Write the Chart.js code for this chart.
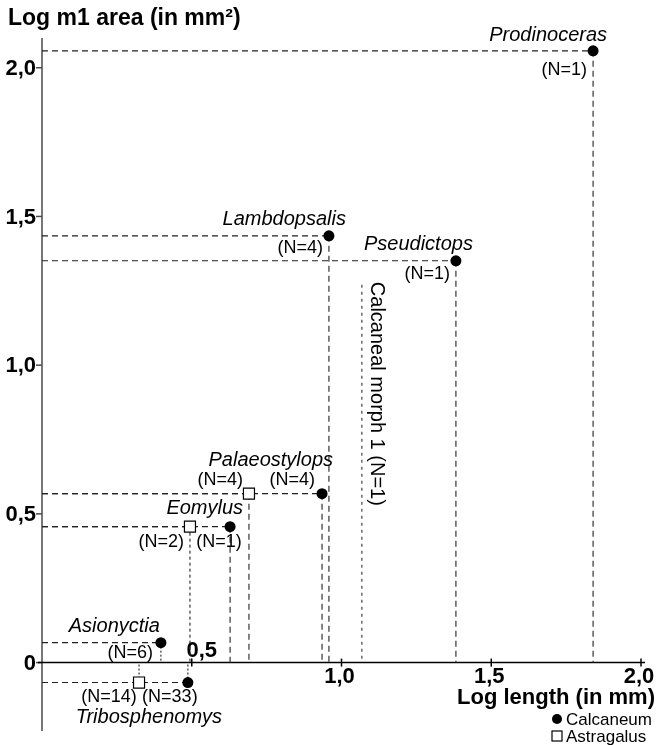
<!DOCTYPE html>
<html lang="en">
<head>
<meta charset="UTF-8">
<title>Log m1 area vs Log length</title>
<script src="https://cdn.jsdelivr.net/npm/chart.js@4.4.1/dist/chart.umd.min.js"></script>
<style>
  html, body { margin: 0; padding: 0; background: #fff; }
  #caja { width: 657px; height: 745px; position: relative; }
</style>
</head>
<body>
<div id="caja"><canvas id="grafico"></canvas></div>
<script>
// Calcaneum (filled circles)
const calcNames = ['Prodinoceras', 'Lambdopsalis', 'Pseudictops', 'Palaeostylops', 'Eomylus', 'Asionyctia', 'Tribosphenomys'];
const calcX = [1.840, 0.958, 1.382, 0.935, 0.628, 0.397, 0.487];
const calcY = [2.057, 1.435, 1.351, 0.568, 0.457, 0.067, -0.067];
const calcN = [1, 4, 1, 4, 1, 6, 33];

// Astragalus (open squares)
const astrNames = ['Palaeostylops', 'Eomylus', 'Tribosphenomys'];
const astrX = [0.691, 0.494, 0.324];
const astrY = [0.568, 0.457, -0.067];
const astrN = [4, 2, 14];

// Calcaneal morph 1: only the length is known
const morphX = 1.068;
const morphTop = 1.27;
const morphLabel = 'Calcaneal morph 1 (N=1)';

const xTicks = [0.5, 1.0, 1.5, 2.0];
const xTickLabels = ['0,5', '1,0', '1,5', '2,0'];
const yTicks = [0, 0.5, 1.0, 1.5, 2.0];
const yTickLabels = ['0', '0,5', '1,0', '1,5', '2,0'];

const xTitle = 'Log length (in mm)';
const yTitle = 'Log m1 area (in mm²)';

const fuente = "'Liberation Sans', Arial, Helvetica, sans-serif";
const DASH = [6, 4];
const DOT = [2, 2];

// estilo de la linea vertical de cada punto
const calcVertical = [DASH, DASH, DASH, DASH, DASH, DOT, DOT];
const astrVertical = [DASH, [3, 3], DOT];

// posicion de los textos respecto al punto (px)
const calcLayout = [
    { name: [14, -15, 'right'], n: [-6, 19, 'right'] },
    { name: [17, -16, 'right'], n: [-6, 12, 'right'] },
    { name: [17, -16, 'right'], n: [-6, 13, 'right'] },
    { name: [11, -33, 'right'], n: [-7, -14, 'right'] },
    { name: [13, -18, 'right'], n: [-11, 15, 'center'] },
    { name: [-1, -16, 'right'], n: [-8, 10, 'right'] },
    { name: [-39, 35, 'center'], n: [-18, 15, 'center'] }
];
const astrLayout = [
    { n: [-6, -14, 'right'] },
    { n: [-6, 15, 'right'] },
    { n: [-30, 15, 'center'] }
];

function linea(desde, hasta, dash, color) {
    return {
        type: 'scatter',
        showLine: true,
        data: [desde, hasta],
        borderColor: color,
        borderWidth: 1.2,
        borderDash: dash,
        pointRadius: 0,
        order: 2
    };
}

// lineas guia: horizontal hasta el eje y, vertical hasta el eje x
const guias = [];
calcX.forEach((x, i) => {
    guias.push(linea({ x: 0, y: calcY[i] }, { x: x, y: calcY[i] }, DASH, '#222'));
    guias.push(linea({ x: x, y: calcY[i] }, { x: x, y: 0 }, calcVertical[i], '#333'));
});
astrX.forEach((x, i) => {
    guias.push(linea({ x: 0, y: astrY[i] }, { x: x, y: astrY[i] }, DASH, '#222'));
    guias.push(linea({ x: x, y: astrY[i] }, { x: x, y: 0 }, astrVertical[i], '#333'));
});
guias.push(linea({ x: morphX, y: morphTop }, { x: morphX, y: 0 }, [3, 4], '#444'));

const ejesPlugin = {
    id: 'ejes',
    beforeDatasetsDraw(chart) {
        const { ctx, chartArea, scales: { x, y } } = chart;
        const x0 = x.getPixelForValue(0);
        const y0 = y.getPixelForValue(0);

        ctx.save();
        ctx.lineWidth = 1.5;

        // eje y
        ctx.strokeStyle = '#4a4a4a';
        ctx.beginPath();
        ctx.moveTo(x0, chartArea.top);
        ctx.lineTo(x0, chartArea.bottom);
        ctx.stroke();

        yTicks.forEach((v, i) => {
            const py = y.getPixelForValue(v);
            ctx.beginPath();
            ctx.moveTo(x0 - 6, py);
            ctx.lineTo(x0, py);
            ctx.stroke();
            ctx.fillStyle = '#000';
            ctx.font = `bold 22px ${fuente}`;
            ctx.textAlign = 'right';
            ctx.textBaseline = 'middle';
            ctx.fillText(yTickLabels[i], x0 - 6, py + 1);
        });

        // eje x
        ctx.strokeStyle = '#000';
        ctx.beginPath();
        ctx.moveTo(x0 - 4, y0);
        ctx.lineTo(chartArea.right - 2, y0);
        ctx.stroke();

        xTicks.forEach((v, i) => {
            const px = x.getPixelForValue(v);
            ctx.beginPath();
            ctx.moveTo(px, y0 - 4);
            ctx.lineTo(px, y0 + 4);
            ctx.stroke();
            ctx.font = `bold 22px ${fuente}`;
            ctx.textAlign = 'center';
            ctx.textBaseline = 'middle';
            if (i === 0) {
                ctx.fillText(xTickLabels[i], px + 10, y0 - 12);
            } else {
                ctx.fillText(xTickLabels[i], px - 2, y0 + 14);
            }
        });

        // titulos
        ctx.font = `bold 23px ${fuente}`;
        ctx.textAlign = 'left';
        ctx.fillText(yTitle, 8, 19);
        ctx.font = `bold 22px ${fuente}`;
        ctx.textAlign = 'right';
        ctx.fillText(xTitle, 655, 698);

        ctx.restore();
    },
    afterDatasetsDraw(chart) {
        const { ctx, scales: { x, y } } = chart;
        const calcMeta = chart.getDatasetMeta(0).data;
        const astrMeta = chart.getDatasetMeta(1).data;

        ctx.save();
        ctx.fillStyle = '#000';
        ctx.textBaseline = 'middle';

        calcMeta.forEach((p, i) => {
            const lay = calcLayout[i];
            ctx.font = `italic 20px ${fuente}`;
            ctx.textAlign = lay.name[2];
            ctx.fillText(calcNames[i], p.x + lay.name[0], p.y + lay.name[1]);
            ctx.font = `18px ${fuente}`;
            ctx.textAlign = lay.n[2];
            ctx.fillText(`(N=${calcN[i]})`, p.x + lay.n[0], p.y + lay.n[1]);
        });

        astrMeta.forEach((p, i) => {
            const lay = astrLayout[i];
            ctx.font = `18px ${fuente}`;
            ctx.textAlign = lay.n[2];
            ctx.fillText(`(N=${astrN[i]})`, p.x + lay.n[0], p.y + lay.n[1]);
        });

        // etiqueta vertical de Calcaneal morph 1
        ctx.translate(x.getPixelForValue(morphX) + 15, y.getPixelForValue(morphTop) - 3);
        ctx.rotate(Math.PI / 2);
        ctx.font = `20px ${fuente}`;
        ctx.textAlign = 'left';
        ctx.fillText(morphLabel, 0, 0);
        ctx.setTransform(1, 0, 0, 1, 0, 0);

        // leyenda
        ctx.beginPath();
        ctx.arc(557, 719, 5, 0, Math.PI * 2);
        ctx.fill();
        ctx.fillStyle = '#fff';
        ctx.strokeStyle = '#000';
        ctx.lineWidth = 1.2;
        ctx.fillRect(552, 731, 10, 10);
        ctx.strokeRect(552, 731, 10, 10);
        ctx.fillStyle = '#000';
        ctx.font = `17px ${fuente}`;
        ctx.textAlign = 'left';
        ctx.fillText('Calcaneum', 566, 720);
        ctx.fillText('Astragalus', 566, 737);

        ctx.restore();
    }
};

document.addEventListener('DOMContentLoaded', () => {
    new Chart(document.getElementById('grafico'), {
        type: 'scatter',
        data: {
            datasets: [
                {
                    label: 'Calcaneum',
                    data: calcX.map((v, i) => ({ x: v, y: calcY[i] })),
                    pointStyle: 'circle',
                    pointRadius: 5.5,
                    backgroundColor: '#000',
                    borderColor: '#000',
                    borderWidth: 0,
                    order: 0
                },
                {
                    label: 'Astragalus',
                    data: astrX.map((v, i) => ({ x: v, y: astrY[i] })),
                    pointStyle: 'rect',
                    pointRadius: 7.8,
                    backgroundColor: '#fff',
                    borderColor: '#000',
                    borderWidth: 1.2,
                    order: 0
                },
                ...guias
            ]
        },
        options: {
            responsive: true,
            maintainAspectRatio: false,
            animation: false,
            layout: { padding: { left: 42, right: 10, top: 38, bottom: 14 } },
            scales: {
                x: { type: 'linear', min: 0, max: 2.02, display: false },
                y: { type: 'linear', min: -0.23, max: 2.1, display: false }
            },
            plugins: {
                legend: { display: false },
                tooltip: { enabled: false }
            }
        },
        plugins: [ejesPlugin]
    });
});
</script>
</body>
</html>
